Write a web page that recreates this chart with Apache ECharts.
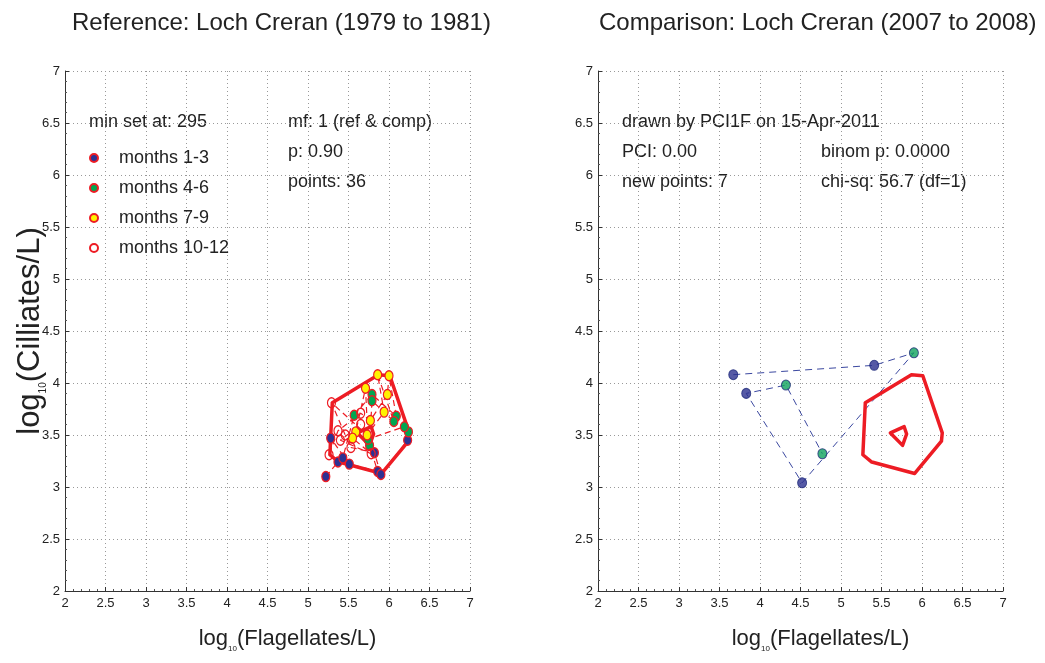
<!DOCTYPE html>
<html>
<head>
<meta charset="utf-8">
<script src="https://cdn.jsdelivr.net/npm/echarts@6/dist/echarts.min.js"></script>
<style>
  html, body { margin: 0; padding: 0; background: #fff; }
  #chart { width: 1045px; height: 663px; }
</style>
</head>
<body>
<div id="chart"></div>
<script>
// ---- Reference period, monthly samples Jan 1979 .. Dec 1981 (log10 cells per litre) ----
const refFlag = [
  5.22, 5.37, 5.43, 5.57, 5.79, 6.09, 6.00, 5.98, 5.77, 5.65, 5.37, 5.26,
  5.28, 5.51, 5.86, 5.76, 5.79, 6.06, 5.86, 5.94, 5.73, 5.29, 5.46, 5.53,
  5.82, 5.90, 6.23, 6.24, 6.19, 5.74, 5.71, 5.59, 5.55, 5.78, 5.40, 5.65
];
const refCil = [
  3.10, 3.24, 3.28, 3.69, 3.89, 3.68, 4.07, 3.89, 3.64, 3.71, 3.54, 3.31,
  3.47, 3.22, 3.15, 3.40, 3.83, 3.63, 4.08, 3.72, 3.50, 3.81, 3.50, 3.38,
  3.33, 3.12, 3.45, 3.53, 3.58, 3.46, 3.95, 3.53, 3.47, 3.32, 3.45, 3.60
];
// season index: 0 = months 1-3, 1 = 4-6, 2 = 7-9, 3 = 10-12
const refSeason = [
  0, 0, 0, 1, 1, 1, 2, 2, 2, 3, 3, 3,
  0, 0, 0, 1, 1, 1, 2, 2, 2, 3, 3, 3,
  0, 0, 0, 1, 1, 1, 2, 2, 2, 3, 3, 3
];

// ---- Comparison period samples, 2007 to 2008 ----
const compFlag = [3.67, 5.41, 5.90, 4.52, 3.83, 4.32, 4.77];
const compCil  = [4.08, 4.17, 4.29, 3.04, 3.90, 3.98, 3.32];
const compSeason = [0, 0, 1, 0, 0, 1, 1];

// ---- Reference-condition contours (outer p = 0.90 envelope, inner core) ----
const outerFlag = [5.30, 5.27, 5.38, 5.91, 6.24, 6.25, 6.01, 5.87, 5.30];
const outerCil  = [3.81, 3.31, 3.24, 3.13, 3.44, 3.52, 4.07, 4.08, 3.81];
const innerFlag = [5.61, 5.78, 5.81, 5.76, 5.61];
const innerCil  = [3.52, 3.58, 3.51, 3.40, 3.52];

// ---- Text ----
const seasonNames = ['months 1-3', 'months 4-6', 'months 7-9', 'months 10-12'];
const titles = ['Reference: Loch Creran (1979 to 1981)', 'Comparison: Loch Creran (2007 to 2008)'];
const refNotes = ['min set at: 295', 'mf: 1 (ref & comp)', 'p: 0.90', 'points: 36'];
const compNotes = ['drawn by PCI1F on 15-Apr-2011', 'PCI: 0.00', 'new points: 7', 'binom p: 0.0000', 'chi-sq: 56.7 (df=1)'];

const FONT = '"Liberation Sans", Arial, sans-serif';
const RED = '#ED1C24';
const seasonFill = ['#2E3192', '#00A651', '#FFF200', 'rgba(255,255,255,0)'];
const compFill = ['#2A2F8E', '#0FA35C'];

const pairs = (xs, ys) => xs.map((x, i) => [x, ys[i]]);

function makeXAxis(gridIndex) {
  return {
    gridIndex, type: 'value', min: 2, max: 7, interval: 0.5,
    axisLine: { show: true, onZero: false, lineStyle: { color: '#333', width: 1 } },
    axisTick: { show: true, inside: true, length: 4, lineStyle: { color: '#333' } },
    minorTick: { show: true, splitNumber: 5, length: 2, lineStyle: { color: '#555' } },
    axisLabel: { fontSize: 13, color: '#222', margin: 6, fontFamily: FONT },
    splitLine: { show: true, lineStyle: { type: [1, 3], color: '#999', width: 1 } },
    name: '{n|log}{s|10}{n|(Flagellates/L)}',
    nameLocation: 'middle', nameGap: 34,
    nameTextStyle: {
      padding: [0, 0, 0, 40],
      rich: {
        n: { fontSize: 22, fontFamily: FONT, color: '#222', lineHeight: 28 },
        s: { fontSize: 8, fontFamily: FONT, color: '#222', lineHeight: 10, verticalAlign: 'bottom' }
      }
    }
  };
}
function makeYAxis(gridIndex, withName) {
  const ax = {
    gridIndex, type: 'value', min: 2, max: 7, interval: 0.5,
    axisLine: { show: true, onZero: false, lineStyle: { color: '#333', width: 1 } },
    axisTick: { show: true, inside: true, length: 4, lineStyle: { color: '#333' } },
    minorTick: { show: true, splitNumber: 5, length: 2, lineStyle: { color: '#555' } },
    axisLabel: { fontSize: 13, color: '#222', margin: 5, fontFamily: FONT },
    splitLine: { show: true, lineStyle: { type: [1, 3], color: '#999', width: 1 } }
  };
  if (withName) {
    ax.name = '{n|log}{s|10}{n|(Cilliates/L)}';
    ax.nameLocation = 'middle';
    ax.nameGap = 17;
    ax.nameMoveOverlap = false;
    ax.nameRotate = 90;
    ax.nameTextStyle = {
      rich: {
        n: { fontSize: 31, fontFamily: FONT, color: '#222', lineHeight: 36 },
        s: { fontSize: 10, fontFamily: FONT, color: '#222', lineHeight: 12, verticalAlign: 'bottom' }
      }
    };
  }
  return ax;
}

const series = [];
// reference trajectory (chronological order)
series.push({
  type: 'line', xAxisIndex: 0, yAxisIndex: 0, z: 1, silent: true,
  data: pairs(refFlag, refCil), symbol: 'none',
  lineStyle: { color: RED, width: 1.2, type: [6, 4] }
});
// reference contours in both panels
[0, 1].forEach(g => {
  series.push({
    type: 'line', xAxisIndex: g, yAxisIndex: g, z: 2, silent: true,
    data: pairs(outerFlag, outerCil), symbol: 'none',
    lineStyle: { color: RED, width: 3.5, join: 'round', cap: 'round' }
  });
  series.push({
    type: 'line', xAxisIndex: g, yAxisIndex: g, z: 2, silent: true,
    data: pairs(innerFlag, innerCil), symbol: 'none',
    lineStyle: { color: RED, width: 3.5, join: 'round', cap: 'round' }
  });
});
// reference samples by season
seasonNames.forEach((name, s) => {
  series.push({
    name, type: 'scatter', xAxisIndex: 0, yAxisIndex: 0, z: 3,
    symbol: 'circle', symbolSize: [8, 10],
    itemStyle: { color: seasonFill[s], borderColor: RED, borderWidth: 1.3, opacity: 1 },
    data: pairs(refFlag, refCil).filter((p, i) => refSeason[i] === s)
  });
});
// comparison trajectory
series.push({
  type: 'line', xAxisIndex: 1, yAxisIndex: 1, z: 1, silent: true,
  data: pairs(compFlag, compCil), symbol: 'none',
  lineStyle: { color: '#3B48A0', width: 1, type: [7, 5] }
});
// comparison samples
[0, 1].forEach(s => {
  series.push({
    type: 'scatter', xAxisIndex: 1, yAxisIndex: 1, z: 3,
    symbol: 'circle', symbolSize: [9, 10],
    itemStyle: { color: compFill[s], borderColor: '#1F2A7A', borderWidth: 1 },
    data: pairs(compFlag, compCil).filter((p, i) => compSeason[i] === s)
  });
});

const noteStyle = { fontSize: 18, fontFamily: FONT, fill: '#222', verticalAlign: 'middle' };
const note = (text, x, y) => ({ type: 'text', x, y, silent: true, style: Object.assign({ text }, noteStyle) });

const option = {
  backgroundColor: '#fff',
  animation: false,
  title: [
    { text: titles[0], left: 67, top: 6, textStyle: { fontSize: 24, fontWeight: 'normal', color: '#222', fontFamily: FONT } },
    { text: titles[1], left: 594, top: 6, textStyle: { fontSize: 24, fontWeight: 'normal', color: '#222', fontFamily: FONT } }
  ],
  grid: [
    { left: 65, top: 71, width: 405, height: 520, containLabel: false },
    { left: 598, top: 71, width: 405, height: 520, containLabel: false }
  ],
  xAxis: [makeXAxis(0), makeXAxis(1)],
  yAxis: [makeYAxis(0, true), makeYAxis(1, false)],
  legend: {
    data: seasonNames, orient: 'vertical', left: 84, top: 143,
    itemWidth: 8, itemHeight: 10, itemGap: 10, selectedMode: false,
    textStyle: { fontSize: 18, color: '#222', fontFamily: FONT, lineHeight: 20, padding: [0, 0, 0, 16] }
  },
  graphic: [
    note(refNotes[0], 89, 122),
    note(refNotes[1], 288, 122),
    note(refNotes[2], 288, 152),
    note(refNotes[3], 288, 182),
    note(compNotes[0], 622, 122),
    note(compNotes[1], 622, 152),
    note(compNotes[2], 622, 182),
    note(compNotes[3], 821, 152),
    note(compNotes[4], 821, 182)
  ],
  series
};

const chart = echarts.init(document.getElementById('chart'), null, { renderer: 'canvas' });
chart.setOption(option);
</script>
</body>
</html>
